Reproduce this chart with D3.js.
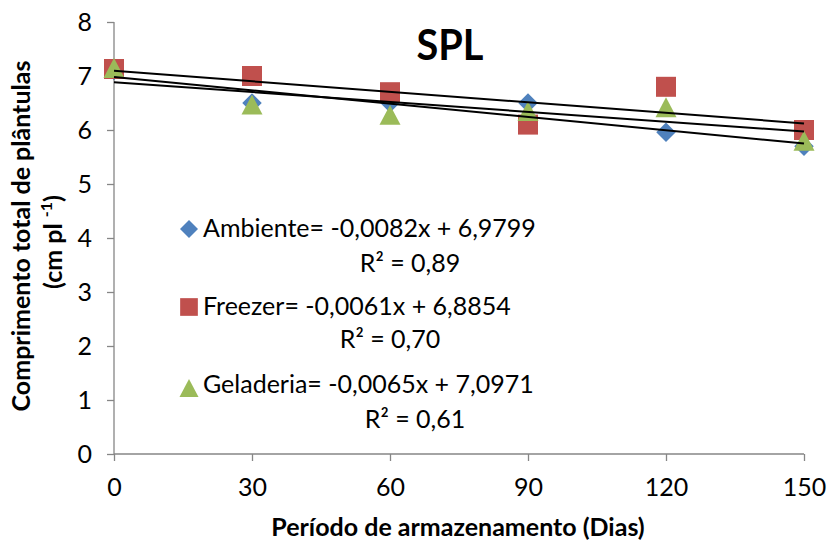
<!DOCTYPE html>
<html><head><meta charset="utf-8">
<script src="https://cdn.jsdelivr.net/npm/d3@7"></script>
<style>body{margin:0;background:#fff}svg{display:block}text{font-family:Lato,"Open Sans",sans-serif}</style>
</head><body>
<svg id="c" width="827" height="542"></svg>
<script>
const days = [0, 30, 60, 90, 120, 150];
const ambiente = [7.1, 6.5, 6.5, 6.5, 5.96, 5.7];
const freezer = [7.13, 7.0, 6.7, 6.1, 6.8, 6.0];
const geladeria = [7.15, 6.47, 6.28, 6.35, 6.42, 5.8];
const seriesNames = ["Ambiente", "Freezer", "Geladeria"];
const slopes = [-0.0082, -0.0061, -0.0065];
const intercepts = [6.9799, 6.8854, 7.0971];
const eqLabels = ["= -0,0082x + 6,9799", "= -0,0061x + 6,8854", "= -0,0065x + 7,0971"];
const r2Labels = ["R² = 0,89", "R² = 0,70", "R² = 0,61"];
const yTicks = [0, 1, 2, 3, 4, 5, 6, 7, 8];
const xTicks = [0, 30, 60, 90, 120, 150];
const colors = ["#4F81BD", "#C0504D", "#9BBB59"];

// custom marker shapes (size = bounding width in px)
const diamond = { draw(ctx, w) { const r = w / 2; ctx.moveTo(0, -r); ctx.lineTo(r, 0); ctx.lineTo(0, r); ctx.lineTo(-r, 0); ctx.closePath(); } };
const square = { draw(ctx, w) { const r = w / 2; ctx.rect(-r, -r, w, w); } };
const triangle = { draw(ctx, w) { const r = w / 2, h = w * 0.95; ctx.moveTo(0, -h / 2); ctx.lineTo(r, h / 2); ctx.lineTo(-r, h / 2); ctx.closePath(); } };
const shapes = [diamond, square, triangle];
const markSize = [19.5, 20, 21];
const legSize = [18, 17.7, 19];

const svg = d3.select("#c");
const x = d3.scaleLinear().domain([0, 150]).range([114, 804]);
const y = d3.scaleLinear().domain([0, 8]).range([454, 22]);
const axisColor = "#868686";

// axes
const yAx = svg.append("g").attr("transform", "translate(114,0)")
  .call(d3.axisLeft(y).tickValues(yTicks).tickSize(7).tickPadding(15).tickFormat(d3.format("d")));
const xAx = svg.append("g").attr("transform", "translate(0,454)")
  .call(d3.axisBottom(x).tickValues(xTicks).tickSize(7).tickPadding(17).tickFormat(d3.format("d")));
[yAx, xAx].forEach(a => {
  a.selectAll("path,line").attr("stroke", axisColor).attr("stroke-width", 1.3);
  a.selectAll("text").attr("font-size", 25).attr("fill", "#000").style("font-family", "Lato, sans-serif");
});
yAx.select(".domain").attr("d", `M0,${y(8)}V${y(0)}`);
xAx.select(".domain").attr("d", `M${x(0)},0H${x(150)}`);

// markers
const data = [ambiente, freezer, geladeria];
data.forEach((vals, i) => {
  svg.append("g").selectAll("path").data(vals).join("path")
    .attr("d", d3.symbol().type(shapes[i]).size(markSize[i]))
    .attr("transform", (d, j) => `translate(${x(days[j])},${y(d)})`)
    .attr("fill", colors[i]);
});

// trend lines
seriesNames.forEach((n, i) => {
  svg.append("line")
    .attr("x1", x(0)).attr("y1", y(intercepts[i]))
    .attr("x2", x(150)).attr("y2", y(intercepts[i] + slopes[i] * 150))
    .attr("stroke", "#000").attr("stroke-width", 2);
});

// title
svg.append("text").attr("x", 450).attr("y", 60).attr("text-anchor", "middle")
  .attr("font-size", 42).attr("font-weight", "bold")
  .attr("textLength", 67).attr("lengthAdjust", "spacingAndGlyphs").text("SPL");

// legend / equations
const legY = [229, 307, 388];
const eqBase = [237, 315, 393];
const r2X = [410, 390, 415];
const r2Base = [272, 348, 428];
seriesNames.forEach((n, i) => {
  svg.append("path").attr("d", d3.symbol().type(shapes[i]).size(legSize[i]))
    .attr("transform", `translate(189,${legY[i]})`).attr("fill", colors[i]);
  svg.append("text").attr("x", 203).attr("y", eqBase[i]).attr("font-size", 25)
    .text(n + eqLabels[i]);
  svg.append("text").attr("x", r2X[i]).attr("y", r2Base[i]).attr("font-size", 25)
    .attr("text-anchor", "middle").text(r2Labels[i]);
});

// axis titles
svg.append("text").attr("x", 458).attr("y", 536).attr("text-anchor", "middle")
  .attr("font-size", 25).attr("font-weight", "bold").text("Período de armazenamento (Dias)");
const yt = svg.append("text").attr("transform", "translate(0,236) rotate(-90)")
  .attr("text-anchor", "middle").attr("font-size", 25).attr("font-weight", "bold");
yt.append("tspan").attr("x", 0).attr("y", 30).text("Comprimento total de plântulas");
const yt2 = svg.append("text").attr("transform", "translate(0,242) rotate(-90)")
  .attr("text-anchor", "middle").attr("font-size", 25).attr("font-weight", "bold");
yt2.append("tspan").attr("y", 62).text("(cm pl ");
yt2.append("tspan").attr("font-size", 16).attr("dy", -10).text("-1");
yt2.append("tspan").attr("dy", 10).text(")");
</script>
</body></html>
